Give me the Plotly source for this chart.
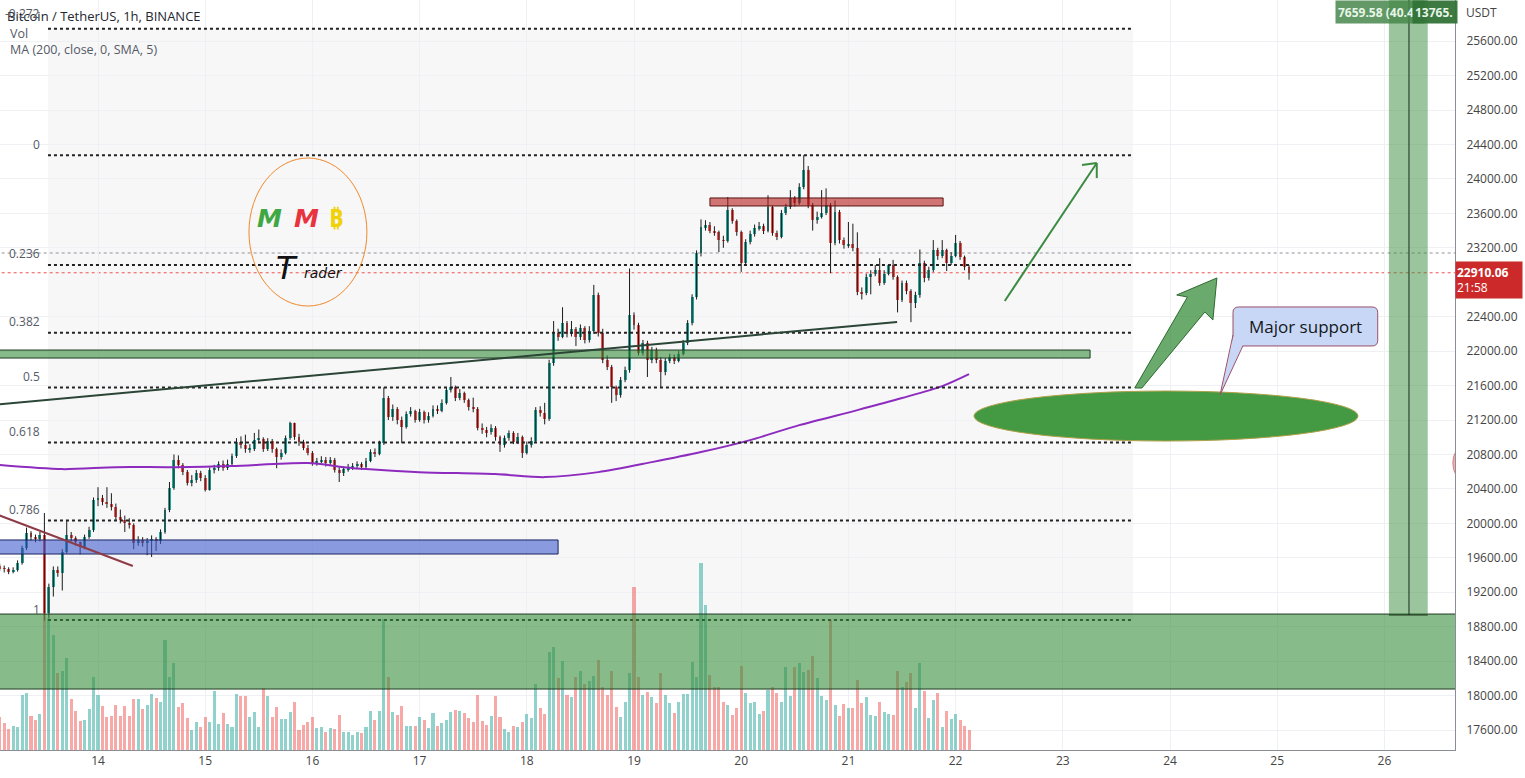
import plotly.graph_objects as go

# ---------------- data ----------------
day_labels = ["14", "15", "16", "17", "18", "19", "20", "21", "22", "23", "24", "25", "26"]
day_numbers = [14, 15, 16, 17, 18, 19, 20, 21, 22, 23, 24, 25, 26]
start_hour = 2          # first candle: Jan 13, 02:00 (hours counted from Jan 13 00:00)
first_open = 19500

closes = [
    19480, 19470, 19440, 19460, 19540, 19710, 19890, 19840, 19820, 19860,
    18960, 19260, 19460, 19420, 19670, 19865, 19830, 19780, 19720, 19840,
    19920, 20270, 20300, 20250, 20220, 20190, 20070, 20040, 20010, 19980,
    19770, 19810, 19770, 19800, 19820, 19790, 19900, 20150, 20410, 20735,
    20680, 20600, 20470, 20500, 20580, 20530, 20390, 20620, 20640, 20690,
    20640, 20690, 20780, 20950, 20910, 20860, 20860, 20970, 20980, 20860,
    20960, 20860, 20770, 20820, 20990, 21160, 21000, 20940, 20880, 20820,
    20700, 20720, 20740, 20700, 20740, 20620, 20580, 20630, 20650, 20670,
    20690, 20650, 20730, 20830, 20810, 20930, 21455, 21234, 21330, 21200,
    21118, 21270, 21300, 21200, 21290, 21200, 21250, 21330, 21310, 21400,
    21545, 21580, 21460, 21510, 21430, 21350, 21330, 21110, 21080, 21060,
    21110, 21000, 20910, 20990, 21050, 20950, 21000, 20820, 20910, 20960,
    21315, 21280, 21210, 21860, 22210, 22170, 22325, 22200, 22260, 22160,
    22270, 22130, 22230, 22650, 22210, 21900, 21815, 21580, 21490, 21665,
    21780, 22420, 22300, 21980, 22090, 21895, 22010, 21900, 21756, 21890,
    21930, 21890, 21970, 22095, 22325, 22630, 23138, 23440, 23460, 23400,
    23380, 23290, 23280, 23637, 23510, 23380, 23022, 23266, 23360, 23430,
    23450, 23400, 23672, 23370, 23330, 23602, 23670, 23776, 23720, 23904,
    24102, 23700, 23520, 23560, 23600, 23700, 23254, 23614, 23290, 23231,
    23250, 23200, 22685, 22670, 22859, 22900, 22940, 22790, 22900, 22995,
    22860, 22592, 22790, 22700, 22557, 22650, 23022, 22848, 22940, 23173,
    23110, 23170, 23022, 23110, 23255, 23091, 22975, 22910.06,
]

highs = [
    19530, 19510, 19490, 19490, 19570, 19740, 19950, 19910, 19870, 19900,
    20120, 19300, 19500, 19500, 19700, 20040, 19900, 19850, 19790, 19870,
    19960, 20300, 20420, 20330, 20420, 20350, 20230, 20160, 20090, 20060,
    20000, 19850, 19840, 19830, 19860, 19840, 19930, 20180, 20480, 20800,
    20790, 20700, 20620, 20560, 20620, 20610, 20560, 20650, 20680, 20720,
    20730, 20740, 20810, 20990, 21010, 21030, 20920, 21050, 21090, 21000,
    20990, 20980, 20880, 20860, 21020, 21180, 21170, 21040, 20970, 20910,
    20840, 20760, 20780, 20770, 20770, 20760, 20650, 20660, 20690, 20700,
    20720, 20710, 20760, 20860, 20870, 20960, 21580, 21480, 21380, 21350,
    21240, 21300, 21350, 21320, 21330, 21310, 21290, 21370, 21370, 21440,
    21580, 21700, 21600, 21560, 21530, 21450, 21460, 21350, 21160, 21120,
    21150, 21130, 21020, 21020, 21080, 21070, 21050, 21020, 20950, 21000,
    21350, 21360, 21400, 21900, 22350, 22260, 22510, 22350, 22350, 22280,
    22310, 22290, 22290, 22770, 22680, 22260, 21950, 21840, 21600, 21700,
    21820, 22960, 22450, 22330, 22130, 22120, 22050, 22040, 21930, 21920,
    21970, 21960, 22000, 22130, 22360, 22660, 23170, 23530, 23520, 23500,
    23450, 23400, 23340, 23790, 23660, 23530, 23400, 23300, 23400, 23470,
    23500, 23480, 23810, 23690, 23400, 23640, 23710, 23870, 23800, 23950,
    24276, 24150, 23720, 23620, 23870, 23890, 23720, 23750, 23640, 23320,
    23500, 23480, 23380, 22740, 22900, 22940, 23000, 23080, 22940, 23010,
    23060, 22880, 22820, 22820, 22720, 22690, 23180, 23050, 22980, 23290,
    23200, 23290, 23190, 23150, 23350, 23280, 23110, 23000,
]

lows = [
    19450, 19430, 19410, 19420, 19440, 19520, 19690, 19800, 19780, 19790,
    18870, 18900, 19150, 19380, 19220, 19650, 19790, 19740, 19640, 19700,
    19820, 19900, 20200, 20210, 20180, 20150, 20040, 20000, 19900, 19940,
    19700, 19740, 19730, 19630, 19610, 19680, 19760, 19880, 20130, 20390,
    20640, 20560, 20440, 20430, 20470, 20490, 20370, 20380, 20580, 20610,
    20610, 20620, 20660, 20760, 20870, 20820, 20820, 20840, 20930, 20830,
    20840, 20820, 20640, 20740, 20800, 20970, 20970, 20900, 20850, 20790,
    20670, 20670, 20700, 20660, 20680, 20590, 20480, 20550, 20600, 20620,
    20640, 20620, 20630, 20710, 20770, 20790, 20910, 21200, 21190, 21150,
    20930, 21100, 21240, 21170, 21180, 21160, 21170, 21230, 21270, 21290,
    21380, 21520, 21420, 21430, 21400, 21310, 21290, 21080, 21040, 21000,
    21030, 20960, 20830, 20880, 20960, 20920, 20920, 20760, 20800, 20880,
    20940, 21240, 21150, 21190, 21830, 22120, 22150, 22160, 22170, 22060,
    22130, 22090, 22100, 22200, 22170, 21860, 21780, 21400, 21420, 21460,
    21640, 21750, 22250, 21950, 21950, 21700, 21860, 21860, 21580, 21720,
    21860, 21850, 21870, 21950, 22070, 22300, 22600, 23100, 23400, 23370,
    23340, 23150, 23200, 23260, 23480, 23340, 22920, 23000, 23240, 23330,
    23400, 23360, 23380, 23340, 23290, 23310, 23580, 23650, 23680, 23700,
    23880, 23660, 23400, 23480, 23540, 23580, 22906, 23230, 23250, 23190,
    23200, 23160, 22650, 22600, 22650, 22660, 22870, 22760, 22770, 22880,
    22830, 22450, 22570, 22660, 22337, 22500, 22620, 22800, 22820, 22920,
    23060, 23080, 22930, 23000, 23090, 23060, 22940, 22830,
]

volumes = [
    3300, 2700, 2100, 2400, 2300, 5500, 5700, 3400, 3000, 3600,
    13700, 13200, 11500, 7700, 7900, 9200, 5100, 3900, 2900, 3000,
    4100, 7300, 5500, 4400, 3300, 3400, 4500, 3400, 4400, 3400,
    5100, 5100, 4100, 4500, 5600, 5200, 4800, 11000, 7300, 8700,
    4300, 4700, 3200, 2000, 2800, 2300, 3300, 2800, 5900, 2600,
    3700, 2600, 2300, 5600, 5400, 5400, 3300, 3800, 2300, 6200,
    5400, 3300, 4300, 3100, 3100, 3800, 4800, 2000, 2500, 2800,
    3300, 2200, 2300, 1800, 2200, 2100, 3500, 1800, 1800, 1500,
    1800, 1700, 2300, 3900, 3000, 3900, 13100, 7300, 3800, 3500,
    4400, 2400, 2400, 2400, 3300, 3000, 2200, 3700, 2400, 2700,
    3000, 3800, 4000, 3900, 3700, 3200, 2800, 5500, 2900, 2500,
    3400, 5400, 3300, 2100, 1800, 2400, 2300, 2800, 3600, 3200,
    6600, 4200, 3600, 9800, 10300, 7200, 8900, 5500, 5300, 7300,
    7900, 6600, 6900, 7400, 9000, 6300, 5500, 7900, 4300, 3300,
    4800, 7700, 16300, 7300, 5500, 5800, 5300, 4700, 7700, 5500,
    4700, 3700, 4800, 5600, 5600, 8800, 7300, 18700, 14500, 7500,
    6300, 6300, 4800, 4500, 3500, 4200, 8400, 5700, 4700, 4800,
    3600, 3900, 6000, 6300, 5700, 4800, 8300, 5400, 8300, 8700,
    7800, 8000, 9400, 7200, 5400, 5000, 13000, 4500, 3400, 4600,
    4200, 4200, 7000, 4700, 5300, 3500, 3400, 4800, 3800, 3600,
    3500, 7900, 6300, 6800, 7700, 4200, 8700, 5900, 3200, 5000,
    5700, 2300, 3900, 3100, 3600, 3000, 2400, 2000,
]

ma_hours = [2, 16, 28, 41, 54, 71, 79, 84, 96, 113, 124, 136, 148, 159, 170, 181, 194, 204, 213, 219]
ma_values = [20677, 20630, 20653, 20653, 20665, 20700, 20653, 20630, 20595, 20572,
             20537, 20595, 20711, 20828, 20967, 21141, 21315, 21455, 21594, 21733]

fib_high = 24276
fib_low = 18877
fib_levels = [-0.272, 0, 0.236, 0.382, 0.5, 0.618, 0.786, 1]
fib_labels = ["-0.272", "0", "0.236", "0.382", "0.5", "0.618", "0.786", "1"]

# 22800 is hidden behind the last-price label in the reference
price_ticks = [17600, 18000, 18400, 18800, 19200, 19600, 20000, 20400, 20800, 21200,
               21600, 22000, 22400, 23200, 23600, 24000, 24400, 24800, 25200, 25600]
last_price = 22910.06
ref_line_price = 23140
position_entry = 18936
position_target = 26596

# ---------------- derived ----------------
n = len(closes)
hours = [start_hour + i for i in range(n)]
opens = [first_open] + closes[:-1]
up = [c >= o for o, c in zip(opens, closes)]
body_base = [min(o, c) for o, c in zip(opens, closes)]
body_len = [max(abs(c - o), 8) for o, c in zip(opens, closes)]
body_col = ["#26a69a" if u else "#ef5350" for u in up]
vol_col = ["rgba(38,166,154,0.5)" if u else "rgba(239,83,80,0.5)" for u in up]

wx, wy = [], []
for h, lo, hi in zip(hours, lows, highs):
    wx += [h, h, None]
    wy += [lo, hi, None]

X0, X1 = 2.06, 327.8
Y0, Y1 = 17368, 26078

fig = go.Figure()
fig.add_trace(go.Bar(x=hours, y=volumes, marker=dict(color=vol_col, line=dict(width=0)),
                     width=0.68, yaxis="y2", hoverinfo="skip"))
fig.add_trace(go.Scatter(x=wx, y=wy, mode="lines", line=dict(color="#1b1b1b", width=1),
                         hoverinfo="skip"))
fig.add_trace(go.Bar(x=hours, y=body_len, base=body_base,
                     marker=dict(color=body_col, line=dict(width=0)), width=0.66, hoverinfo="skip"))
fig.add_trace(go.Scatter(x=ma_hours, y=ma_values, mode="lines",
                         line=dict(color="#8e2bbf", width=2, shape="spline", smoothing=0.8),
                         hoverinfo="skip"))

shapes = []
# fib background
shapes.append(dict(type="rect", x0=12.8, x1=255.7, y0=fib_low, y1=fib_high + 0.272 * (fib_high - fib_low),
                   fillcolor="rgba(120,123,134,0.06)", line=dict(width=0), layer="below"))
# reference grey dotted line and last price line
shapes.append(dict(type="line", x0=X0 - 5, x1=X1 + 5, y0=ref_line_price, y1=ref_line_price,
                   line=dict(color="#8f929b", width=1, dash="dot"), layer="below"))
shapes.append(dict(type="line", x0=X0 - 5, x1=X1 + 5, y0=last_price, y1=last_price,
                   line=dict(color="#ef5350", width=1, dash="dot"), layer="below"))
# fib level lines
for lv in fib_levels:
    py_ = fib_high - lv * (fib_high - fib_low)
    shapes.append(dict(type="line", x0=12.8, x1=255.7, y0=py_, y1=py_,
                       line=dict(color="#222222", width=2, dash="dot")))
# zones
shapes.append(dict(type="rect", x0=X0 - 5, x1=X1 + 5, y0=18076, y1=18947,
                   fillcolor="rgba(56,142,60,0.6)", line=dict(color="#1e3a22", width=1)))
shapes.append(dict(type="rect", x0=X0 - 5, x1=246.1, y0=21920, y1=22013,
                   fillcolor="rgba(56,142,60,0.6)", line=dict(color="#1e3a22", width=1)))
shapes.append(dict(type="rect", x0=X0 - 5, x1=127.0, y0=19644, y1=19807,
                   fillcolor="rgba(63,91,205,0.6)", line=dict(color="#1a2360", width=1)))
shapes.append(dict(type="rect", x0=161.0, x1=213.2, y0=23686, y1=23779,
                   fillcolor="rgba(183,28,28,0.6)", line=dict(color="#5a1414", width=1)))
# trend lines
shapes.append(dict(type="line", x0=X0 - 1, x1=202.9, y0=21378, y1=22339,
                   line=dict(color="#2b4536", width=2)))
shapes.append(dict(type="line", x0=X0 - 1, x1=31.8, y0=20110, y1=19505,
                   line=dict(color="#8e3b46", width=2)))
# logo ellipse
shapes.append(dict(type="circle", x0=57.8, x1=84.2, y0=22524, y1=24243,
                   line=dict(color="#f0892a", width=1)))
# support ellipse
shapes.append(dict(type="circle", x0=220.1, x1=306.1, y0=20956, y1=21537,
                   fillcolor="#439a42", line=dict(color="#b0a048", width=1)))
# fat arrow
shapes.append(dict(type="path",
                   path="M 256.1,21572 L 267.9,22629 L 265.5,22652 L 274.5,22850 L 273.6,22362 L 271.8,22455 L 257.7,21572 Z",
                   fillcolor="rgba(56,142,60,0.75)", line=dict(color="#2e6b30", width=1)))
# thin arrow
shapes.append(dict(type="line", x0=227.0, y0=22583, x1=247.6, y1=24185, line=dict(color="#3d8b40", width=2)))
shapes.append(dict(type="line", x0=247.6, y0=24185, x1=244.3, y1=24162, line=dict(color="#3d8b40", width=2)))
shapes.append(dict(type="line", x0=247.6, y0=24185, x1=247.6, y1=24010, line=dict(color="#3d8b40", width=2)))
# callout
cx0, cx1, cy0, cy1, rh, rp = 278.1, 310.5, 22060, 22513, 1.3, 65
callout = (f"M {cx0+rh},{cy0} L {cx1-rh},{cy0} Q {cx1},{cy0} {cx1},{cy0+rp} L {cx1},{cy1-rp} "
           f"Q {cx1},{cy1} {cx1-rh},{cy1} L {cx0+rh},{cy1} Q {cx0},{cy1} {cx0},{cy1-rp} "
           f"L {cx0},{cy0+rp} Q {cx0},{cy0} {cx0+rh},{cy0} Z")
shapes.append(dict(type="path", path=callout, fillcolor="#c8d7f5", line=dict(color="#9c4f6a", width=1)))
shapes.append(dict(type="path", path="M 278.25,22188 L 275.2,21491 L 280.3,22068 Z",
                   fillcolor="#c8d7f5", line=dict(width=0)))
shapes.append(dict(type="line", x0=278.1, y0=22188, x1=275.2, y1=21491, line=dict(color="#9c4f6a", width=1)))
shapes.append(dict(type="line", x0=280.3, y0=22060, x1=275.2, y1=21491, line=dict(color="#9c4f6a", width=1)))
# long position tool
shapes.append(dict(type="rect", x0=313.0, x1=321.7, y0=position_entry, y1=position_target,
                   fillcolor="rgba(56,142,60,0.5)", line=dict(width=0)))
shapes.append(dict(type="line", x0=317.5, x1=317.5, y0=position_entry, y1=position_target,
                   line=dict(color="#1a2a1a", width=1)))
shapes.append(dict(type="line", x0=313.0, x1=321.7, y0=position_entry, y1=position_entry,
                   line=dict(color="#1a2a1a", width=1)))
# partly visible drawing at the right edge
shapes.append(dict(type="circle", x0=327.3, x1=332.3, y0=20503, y1=20898,
                   fillcolor="rgba(229,115,115,0.55)", line=dict(color="rgba(200,80,90,0.6)", width=1)))

W, H = 1455.0, 750.0
def px(x):
    return x / W
def py(y):
    return 1 - y / H

ann = []
FONT = "Open Sans, Roboto, DejaVu Sans"
ann.append(dict(xref="paper", yref="paper", x=px(5), y=py(16), xanchor="left", yanchor="middle",
                text="Bitcoin / TetherUS, 1h, BINANCE", showarrow=False,
                font=dict(family=FONT, size=13, color="#222631")))
ann.append(dict(xref="paper", yref="paper", x=px(8), y=py(33), xanchor="left", yanchor="middle",
                text="Vol", showarrow=False, font=dict(family=FONT, size=12.5, color="#555a66")))
ann.append(dict(xref="paper", yref="paper", x=px(8), y=py(50), xanchor="left", yanchor="middle",
                text="MA (200, close, 0, SMA, 5)", showarrow=False,
                font=dict(family=FONT, size=12.5, color="#555a66")))
for lv, lab in zip(fib_levels, fib_labels):
    pr = fib_high - lv * (fib_high - fib_low)
    ann.append(dict(xref="paper", yref="y", x=px(42), y=pr, xanchor="right", yanchor="middle",
                    yshift=11 if lv != -0.272 else 15, text=lab, showarrow=False,
                    font=dict(family=FONT, size=12, color="#555a66")))
# logo
ann.append(dict(x=62.5, y=23546, text="<b><i>M</i></b>", showarrow=False,
                font=dict(family="DejaVu Sans", size=25, color="#3fa843")))
ann.append(dict(x=70.6, y=23546, text="<b><i>M</i></b>", showarrow=False,
                font=dict(family="DejaVu Sans", size=25, color="#e8343f")))
ann.append(dict(x=77.3, y=23560, text="<b>₿</b>", showarrow=False,
                font=dict(family="Noto Sans, DejaVu Sans", size=25, color="#f0d20a")))
ann.append(dict(x=66.3, y=22960, text="<i>T</i>", showarrow=False,
                font=dict(family="DejaVu Sans", size=32, color="#111111")))
ann.append(dict(x=74.4, y=22905, text="<i>rader</i>", showarrow=False,
                font=dict(family="DejaVu Sans", size=14, color="#111111")))
# callout text
ann.append(dict(x=294.3, y=22292, text="Major support", showarrow=False,
                font=dict(family=FONT, size=17, color="#131722")))
# right axis extras
ann.append(dict(xref="paper", yref="paper", x=1 + 9 / W, y=py(13), xanchor="left", yanchor="middle",
                text="USDT", showarrow=False, font=dict(family=FONT, size=12, color="#444")))
ann.append(dict(xref="paper", yref="y", x=1.0, y=22826, xanchor="left", yanchor="middle",
                text="<b>22910.06</b><br>21:58", showarrow=False, align="left",
                width=64, height=34, bgcolor="#cc2a2a", borderpad=1,
                font=dict(family=FONT, size=12, color="#ffffff")))
ann.append(dict(xref="paper", yref="paper", x=px(1335), y=1.0, xanchor="left", yanchor="top",
                text="<b>7659.58 (40.4</b>", showarrow=False, bgcolor="rgba(70,135,75,0.85)",
                width=84, height=18, borderpad=2, align="left",
                font=dict(family=FONT, size=12, color="#e8f5e9")))
ann.append(dict(xref="paper", yref="paper", x=px(1412), y=1.0, xanchor="left", yanchor="top",
                text="<b>13765.</b>", showarrow=False, bgcolor="rgba(50,115,55,0.95)",
                width=40, height=18, borderpad=2, align="left",
                font=dict(family=FONT, size=12, color="#e8f5e9")))

fig.update_layout(
    width=1525, height=778,
    margin=dict(l=0, r=70, t=0, b=28),
    paper_bgcolor="white", plot_bgcolor="white",
    showlegend=False, barmode="overlay", bargap=0,
    shapes=shapes, annotations=ann,
    xaxis=dict(range=[X0, X1], tickvals=[24 * (d - 13) for d in day_numbers], ticktext=day_labels,
               showgrid=True, gridcolor="#eef0f4", zeroline=False, showline=True, linecolor="#8a8d96",
               ticks="", tickfont=dict(family=FONT, size=12, color="#444")),
    yaxis=dict(range=[Y0, Y1], side="right", tickvals=price_ticks, tickformat=".2f",
               showgrid=True, gridcolor="#eef0f4", zeroline=False, showline=True, linecolor="#8a8d96",
               ticks="", ticklabelstandoff=8, tickfont=dict(family=FONT, size=12, color="#444")),
    yaxis2=dict(range=[0, 75000], overlaying="y", visible=False),
)

fig.write_html("out.html")
